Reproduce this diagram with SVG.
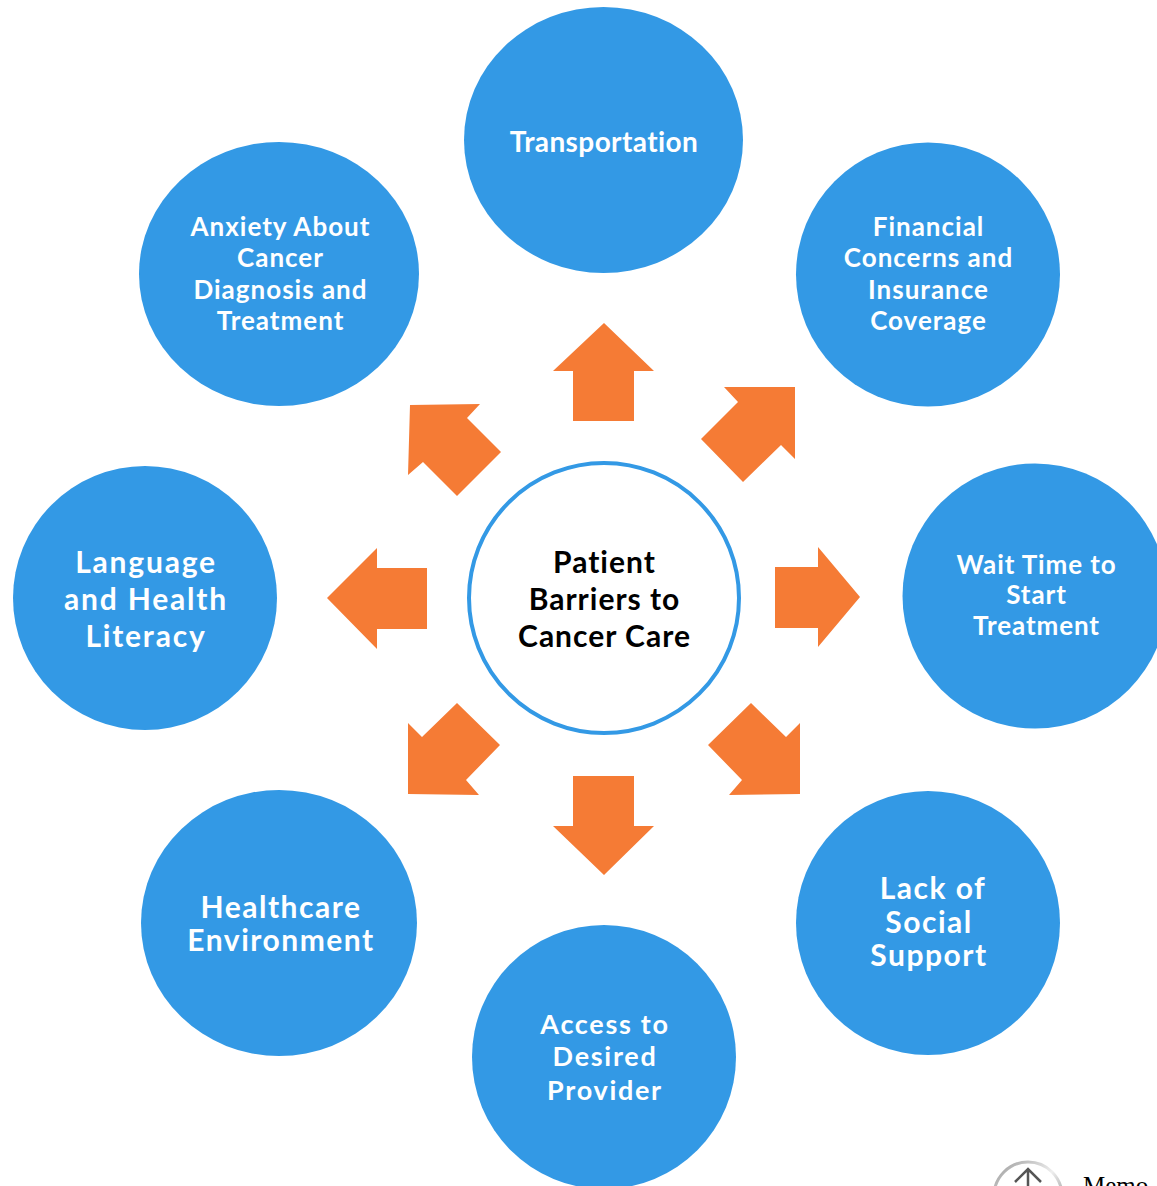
<svg xmlns="http://www.w3.org/2000/svg" width="1157" height="1186" viewBox="0 0 1157 1186">
<defs>
<style>
.node{fill:#3399E5}
.lbl{font-family:Lato,"Open Sans","DejaVu Sans",sans-serif;font-weight:bold;fill:#FFFFFF;text-anchor:middle}
.ctr{font-family:Lato,"Open Sans","DejaVu Sans",sans-serif;font-weight:bold;fill:#000000;text-anchor:middle;font-size:30px;letter-spacing:1px}
.arrow{fill:#F57B35}
</style>
<linearGradient id="memoG" x1="0" y1="0" x2="1" y2="1">
<stop offset="0" stop-color="#9a9a9a"/>
<stop offset="0.5" stop-color="#eeeeee"/>
<stop offset="1" stop-color="#6a6a6a"/>
</linearGradient>
</defs>
<rect width="1157" height="1186" fill="#FFFFFF"/>

<g id="connectors">
<polygon class="arrow" points="604,323 654,371 634,371 634,421 573,421 573,371 553,371"/>
<polygon class="arrow" points="604,875 654,826 634,826 634,776 573,776 573,826 553,826"/>
<polygon class="arrow" points="327,598 377,548 377,568 427,568 427,629 377,629 377,649"/>
<polygon class="arrow" points="860,597 818,547 818,567 775,567 775,628 818,628 818,647"/>
<polygon class="arrow" points="795,387 795,459 781,445 743,482 701,439 738,402 724,387"/>
<polygon class="arrow" points="410,405 480,404 467,418 501,452 457,496 423,462 408,475"/>
<polygon class="arrow" points="800,794 800,723 786,737 751,703 708,745 742,780 729,795"/>
<polygon class="arrow" points="408,794 408,723 422,737 457,703 500,745 466,780 479,795"/>
</g>

<g id="center">
<circle cx="604" cy="598" r="135" fill="#FFFFFF" stroke="#3399E5" stroke-width="4"/>
<text class="ctr" x="604.5" y="573">Patient</text>
<text class="ctr" x="604.5" y="610">Barriers to</text>
<text class="ctr" x="604.5" y="647">Cancer Care</text>
</g>

<g id="transportation">
<ellipse class="node" cx="603.5" cy="140" rx="139.5" ry="133"/>
<text class="lbl" x="604" y="152" font-size="28" letter-spacing="0.4">Transportation</text>
</g>

<g id="anxiety">
<ellipse class="node" cx="279" cy="274" rx="140" ry="132"/>
<text class="lbl" font-size="26" letter-spacing="1"><tspan x="280.5" y="236">Anxiety About</tspan><tspan x="280.5" y="267">Cancer</tspan><tspan x="280.5" y="299">Diagnosis and</tspan><tspan x="280.5" y="330">Treatment</tspan></text>
</g>

<g id="financial">
<circle class="node" cx="928" cy="274.5" r="132"/>
<text class="lbl" font-size="26" letter-spacing="1"><tspan x="928.5" y="236">Financial</tspan><tspan x="928.5" y="267">Concerns and</tspan><tspan x="928.5" y="299">Insurance</tspan><tspan x="928.5" y="330">Coverage</tspan></text>
</g>

<g id="language">
<circle class="node" cx="145" cy="598" r="132"/>
<text class="lbl" font-size="30" letter-spacing="1.8"><tspan x="146" y="573">Language</tspan><tspan x="146" y="610">and Health</tspan><tspan x="146" y="647">Literacy</tspan></text>
</g>

<g id="waittime">
<circle class="node" cx="1035" cy="596" r="132.5"/>
<text class="lbl" font-size="26" letter-spacing="0.9"><tspan x="1036.5" y="574">Wait Time to</tspan><tspan x="1036.5" y="604">Start</tspan><tspan x="1036.5" y="635">Treatment</tspan></text>
</g>

<g id="healthcare">
<ellipse class="node" cx="279" cy="923" rx="138" ry="133"/>
<text class="lbl" font-size="30" letter-spacing="1.5"><tspan x="281" y="918">Healthcare</tspan><tspan x="281" y="951">Environment</tspan></text>
</g>

<g id="socialsupport">
<circle class="node" cx="928" cy="923" r="132"/>
<text class="lbl" font-size="30" letter-spacing="1.5"><tspan x="933" y="899">Lack of</tspan><tspan x="929" y="933">Social</tspan><tspan x="929" y="966">Support</tspan></text>
</g>

<g id="provider">
<circle class="node" cx="604" cy="1057" r="132"/>
<text class="lbl" font-size="27" letter-spacing="1.7"><tspan x="605" y="1034">Access to</tspan><tspan x="605" y="1066">Desired</tspan><tspan x="605" y="1100">Provider</tspan></text>
</g>

<g id="memo">
<circle cx="1028" cy="1196" r="34" fill="#FFFFFF" stroke="url(#memoG)" stroke-width="3"/>
<path d="M1028 1169 L1028 1186 M1015 1182 L1028 1169 L1041 1182" fill="none" stroke="#555555" stroke-width="2.5"/>
<text x="1083" y="1194" font-family="Liberation Serif,serif" font-size="25" fill="#000000">Memo</text>
</g>
</svg>
